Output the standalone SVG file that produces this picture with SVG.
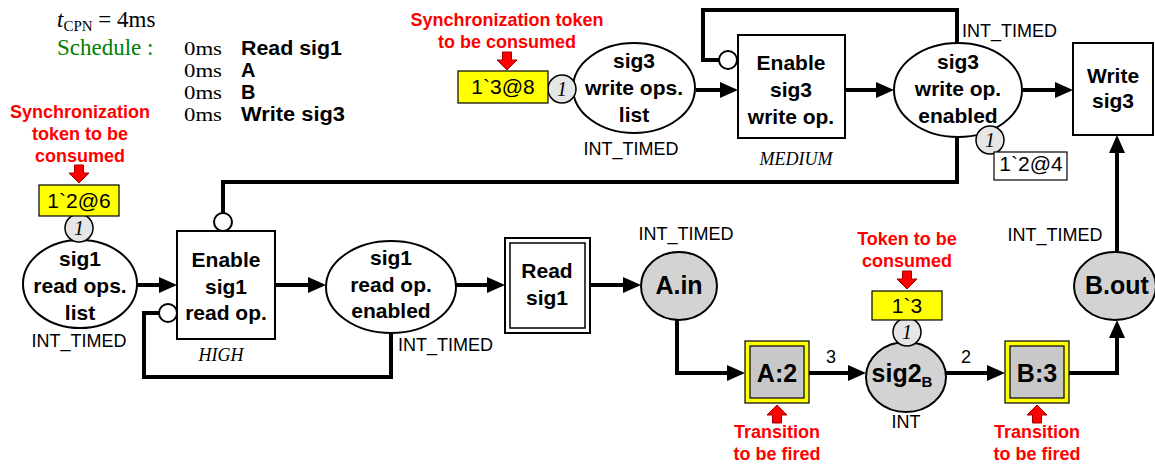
<svg xmlns="http://www.w3.org/2000/svg" xmlns:xlink="http://www.w3.org/1999/xlink" width="1155" height="469" viewBox="0 0 1155 469">
<style>
.lbl{font-family:"Liberation Sans",Arial,sans-serif;font-weight:bold;font-size:21px;text-anchor:middle;fill:#000}
.big{font-size:25px}
.typ{font-family:"Liberation Sans",Arial,sans-serif;font-size:18px;fill:#000}
.mid{text-anchor:middle}
.tok{font-family:"Liberation Sans",Arial,sans-serif;font-size:21px;text-anchor:middle;fill:#000}
.red{font-family:"Liberation Sans",Arial,sans-serif;font-weight:bold;font-size:18px;text-anchor:middle;fill:#ff0000}
.prio{font-family:"Liberation Serif","Times New Roman",serif;font-style:italic;font-size:18px;text-anchor:middle;fill:#000}
.tnum{font-family:"Liberation Serif","Times New Roman",serif;font-style:italic;font-size:20px;text-anchor:middle;fill:#000}
.serif{font-family:"Liberation Serif","Times New Roman",serif;font-size:22px;fill:#000}
.ms{font-family:"Liberation Serif","Times New Roman",serif;font-size:19.5px;fill:#000}
.sb{font-family:"Liberation Sans",Arial,sans-serif;font-weight:bold;font-size:20px;fill:#000}
.place{fill:#fff;stroke:#000;stroke-width:2}
.gplace{fill:#d3d3d3;stroke:#000;stroke-width:2}
.trans{fill:#fff;stroke:#000;stroke-width:2}
.ybox{fill:#ffff00;stroke:#000;stroke-width:1.2}
.wbox{fill:#fff;stroke:#000;stroke-width:1.2}
.tc{fill:#e6e6e6;stroke:#000;stroke-width:1.5}
.arc{fill:none;stroke:#000;stroke-width:4}
.inh{fill:#fff;stroke:#000;stroke-width:2}
.rarr{fill:#ff0000;stroke:#a00000;stroke-width:1}
</style>
<defs>
<marker id="ah" markerWidth="18" markerHeight="16" refX="8" refY="8" orient="auto" markerUnits="userSpaceOnUse">
<path d="M0,0 L18,8 L0,16 z" fill="#000"/>
</marker>
<path id="rdown" d="M-4.5,0 h9 v8 h5.5 l-10,10 l-10,-10 h5.5 z"/>
</defs>
<rect width="1155" height="469" fill="#fff"/>

<g id="schedule">
<text class="serif" x="57" y="27" style="font-size:23px"><tspan font-style="italic">t</tspan><tspan style="font-size:15px" dy="4">CPN</tspan><tspan dy="-4"> = 4ms</tspan></text>
<text class="serif" x="57" y="55" style="fill:#008000;font-size:23px">Schedule :</text>
<text class="ms" x="184" y="55" textLength="38" lengthAdjust="spacingAndGlyphs">0ms</text>
<text class="ms" x="184" y="77" textLength="38" lengthAdjust="spacingAndGlyphs">0ms</text>
<text class="ms" x="184" y="99" textLength="38" lengthAdjust="spacingAndGlyphs">0ms</text>
<text class="ms" x="184" y="121" textLength="38" lengthAdjust="spacingAndGlyphs">0ms</text>
<text class="sb" x="241" y="55" textLength="101" lengthAdjust="spacingAndGlyphs">Read sig1</text>
<text class="sb" x="241" y="77">A</text>
<text class="sb" x="241" y="99">B</text>
<text class="sb" x="241" y="121" textLength="104" lengthAdjust="spacingAndGlyphs">Write sig3</text>
</g>

<g id="connectors">
<path class="arc" d="M137,285 L167,285" marker-end="url(#ah)"/>
<path class="arc" d="M275,285 L316,285" marker-end="url(#ah)"/>
<path class="arc" d="M456,285 L495,285" marker-end="url(#ah)"/>
<path class="arc" d="M590,285 L631,285" marker-end="url(#ah)"/>
<path class="arc" d="M677,320 L677,373 L735,373" marker-end="url(#ah)"/>
<path class="arc" d="M809,373 L856,373" marker-end="url(#ah)"/>
<path class="arc" d="M946,373 L995,373" marker-end="url(#ah)"/>
<path class="arc" d="M1069,373 L1117,373 L1117,330" marker-end="url(#ah)"/>
<path class="arc" d="M1117,252 L1117,145" marker-end="url(#ah)"/>
<path class="arc" d="M696,90 L728,90" marker-end="url(#ah)"/>
<path class="arc" d="M845,90 L884,90" marker-end="url(#ah)"/>
<path class="arc" d="M1023,90 L1063,90" marker-end="url(#ah)"/>
<path class="arc" d="M957,136 L957,182 L223,182 L223,214"/>
<circle class="inh" cx="223" cy="222" r="9"/>
<path class="arc" d="M957,44 L957,10 L703,10 L703,60 L719,60"/>
<circle class="inh" cx="728" cy="60" r="9"/>
<path class="arc" d="M391,333 L391,377 L144,377 L144,313 L159,313"/>
<circle class="inh" cx="168" cy="313" r="9"/>
<text class="typ mid" x="831" y="363">3</text>
<text class="typ mid" x="966" y="363">2</text>
</g>

<g id="sig1_read_ops_list">
<ellipse class="place" cx="80" cy="284" rx="57" ry="44"/>
<text class="lbl" x="80" y="266">sig1</text>
<text class="lbl" x="80" y="293">read ops.</text>
<text class="lbl" x="80" y="320">list</text>
<text class="typ mid" x="79" y="347">INT_TIMED</text>
<circle class="tc" cx="79" cy="228" r="14"/>
<text class="tnum" x="79" y="235">1</text>
<rect class="ybox" x="39" y="185" width="80" height="31"/>
<text class="tok" x="79" y="208">1`2@6</text>
<use xlink:href="#rdown" class="rarr" transform="translate(79,165)"/>
<text class="red" x="80" y="118">Synchronization</text>
<text class="red" x="80" y="140">token to be</text>
<text class="red" x="80" y="162">consumed</text>
</g>

<g id="enable_sig1_read_op">
<rect class="trans" x="177" y="231" width="98" height="108"/>
<text class="lbl" x="226" y="267">Enable</text>
<text class="lbl" x="226" y="294">sig1</text>
<text class="lbl" x="226" y="320">read op.</text>
<text class="prio" x="221" y="361">HIGH</text>
</g>

<g id="sig1_read_op_enabled">
<ellipse class="place" cx="391" cy="287" rx="65" ry="46"/>
<text class="lbl" x="391" y="265">sig1</text>
<text class="lbl" x="391" y="292">read op.</text>
<text class="lbl" x="391" y="318">enabled</text>
<text class="typ" x="398" y="351">INT_TIMED</text>
</g>

<g id="read_sig1">
<rect class="trans" x="505" y="238" width="85" height="95"/>
<rect fill="none" stroke="#000" stroke-width="1.5" x="510" y="243" width="75" height="85"/>
<text class="lbl" x="547" y="278">Read</text>
<text class="lbl" x="547" y="305">sig1</text>
</g>

<g id="A_in">
<ellipse class="gplace" cx="679" cy="286" rx="38" ry="34"/>
<text class="lbl big" x="679" y="294">A.in</text>
<text class="typ mid" x="686" y="240">INT_TIMED</text>
</g>

<g id="A_2">
<rect fill="#ffff00" stroke="#000" stroke-width="1.2" x="745" y="341" width="64" height="62"/>
<rect fill="#c8c8c8" stroke="#000" stroke-width="1.2" x="750" y="346" width="54" height="52"/>
<text class="lbl big" x="777" y="382">A:2</text>
<use xlink:href="#rdown" class="rarr" transform="translate(777,423) rotate(180)"/>
<text class="red" x="777" y="438">Transition</text>
<text class="red" x="777" y="460">to be fired</text>
</g>

<g id="sig2_B">
<ellipse class="gplace" cx="906" cy="377" rx="40" ry="35"/>
<text class="lbl big" x="902" y="382">sig2<tspan style="font-size:15px" dy="5">B</tspan></text>
<text class="typ mid" x="906" y="428">INT</text>
<circle class="tc" cx="907" cy="332" r="14"/>
<text class="tnum" x="907" y="339">1</text>
<rect class="ybox" x="872" y="291" width="70" height="29"/>
<text class="tok" x="907" y="313">1`3</text>
<use xlink:href="#rdown" class="rarr" transform="translate(907,271)"/>
<text class="red" x="907" y="245">Token to be</text>
<text class="red" x="907" y="267">consumed</text>
</g>

<g id="B_3">
<rect fill="#ffff00" stroke="#000" stroke-width="1.2" x="1005" y="341" width="64" height="62"/>
<rect fill="#c8c8c8" stroke="#000" stroke-width="1.2" x="1010" y="346" width="54" height="52"/>
<text class="lbl big" x="1037" y="382">B:3</text>
<use xlink:href="#rdown" class="rarr" transform="translate(1037,423) rotate(180)"/>
<text class="red" x="1037" y="438">Transition</text>
<text class="red" x="1037" y="460">to be fired</text>
</g>

<g id="B_out">
<ellipse class="gplace" cx="1115" cy="286" rx="41" ry="34"/>
<text class="lbl big" x="1117" y="294">B.out</text>
<text class="typ mid" x="1055" y="241">INT_TIMED</text>
</g>

<g id="sig3_write_ops_list">
<ellipse class="place" cx="634" cy="88" rx="61" ry="45"/>
<text class="lbl" x="634" y="68">sig3</text>
<text class="lbl" x="634" y="95">write ops.</text>
<text class="lbl" x="634" y="122">list</text>
<text class="typ mid" x="631" y="155">INT_TIMED</text>
<circle class="tc" cx="562" cy="89" r="14"/>
<text class="tnum" x="562" y="96">1</text>
<rect class="ybox" x="458" y="71" width="90" height="32"/>
<text class="tok" x="503" y="94">1`3@8</text>
<use xlink:href="#rdown" class="rarr" transform="translate(507,52)"/>
<text class="red" x="507" y="26">Synchronization token</text>
<text class="red" x="507" y="48">to be consumed</text>
</g>

<g id="enable_sig3_write_op">
<rect class="trans" x="738" y="35" width="107" height="103"/>
<text class="lbl" x="791" y="70">Enable</text>
<text class="lbl" x="791" y="97">sig3</text>
<text class="lbl" x="791" y="124">write op.</text>
<text class="prio" x="796" y="165">MEDIUM</text>
</g>

<g id="sig3_write_op_enabled">
<ellipse class="place" cx="958" cy="90" rx="64" ry="47"/>
<text class="lbl" x="958" y="69">sig3</text>
<text class="lbl" x="958" y="96">write op.</text>
<text class="lbl" x="958" y="123">enabled</text>
<text class="typ" x="962" y="37">INT_TIMED</text>
<circle class="tc" cx="990" cy="140" r="14"/>
<text class="tnum" x="990" y="147">1</text>
<rect class="wbox" x="994" y="152" width="73" height="28"/>
<text class="tok" x="1031" y="171">1`2@4</text>
</g>

<g id="write_sig3">
<rect class="trans" x="1073" y="43" width="80" height="92"/>
<text class="lbl" x="1113" y="83">Write</text>
<text class="lbl" x="1113" y="108">sig3</text>
</g>
</svg>
